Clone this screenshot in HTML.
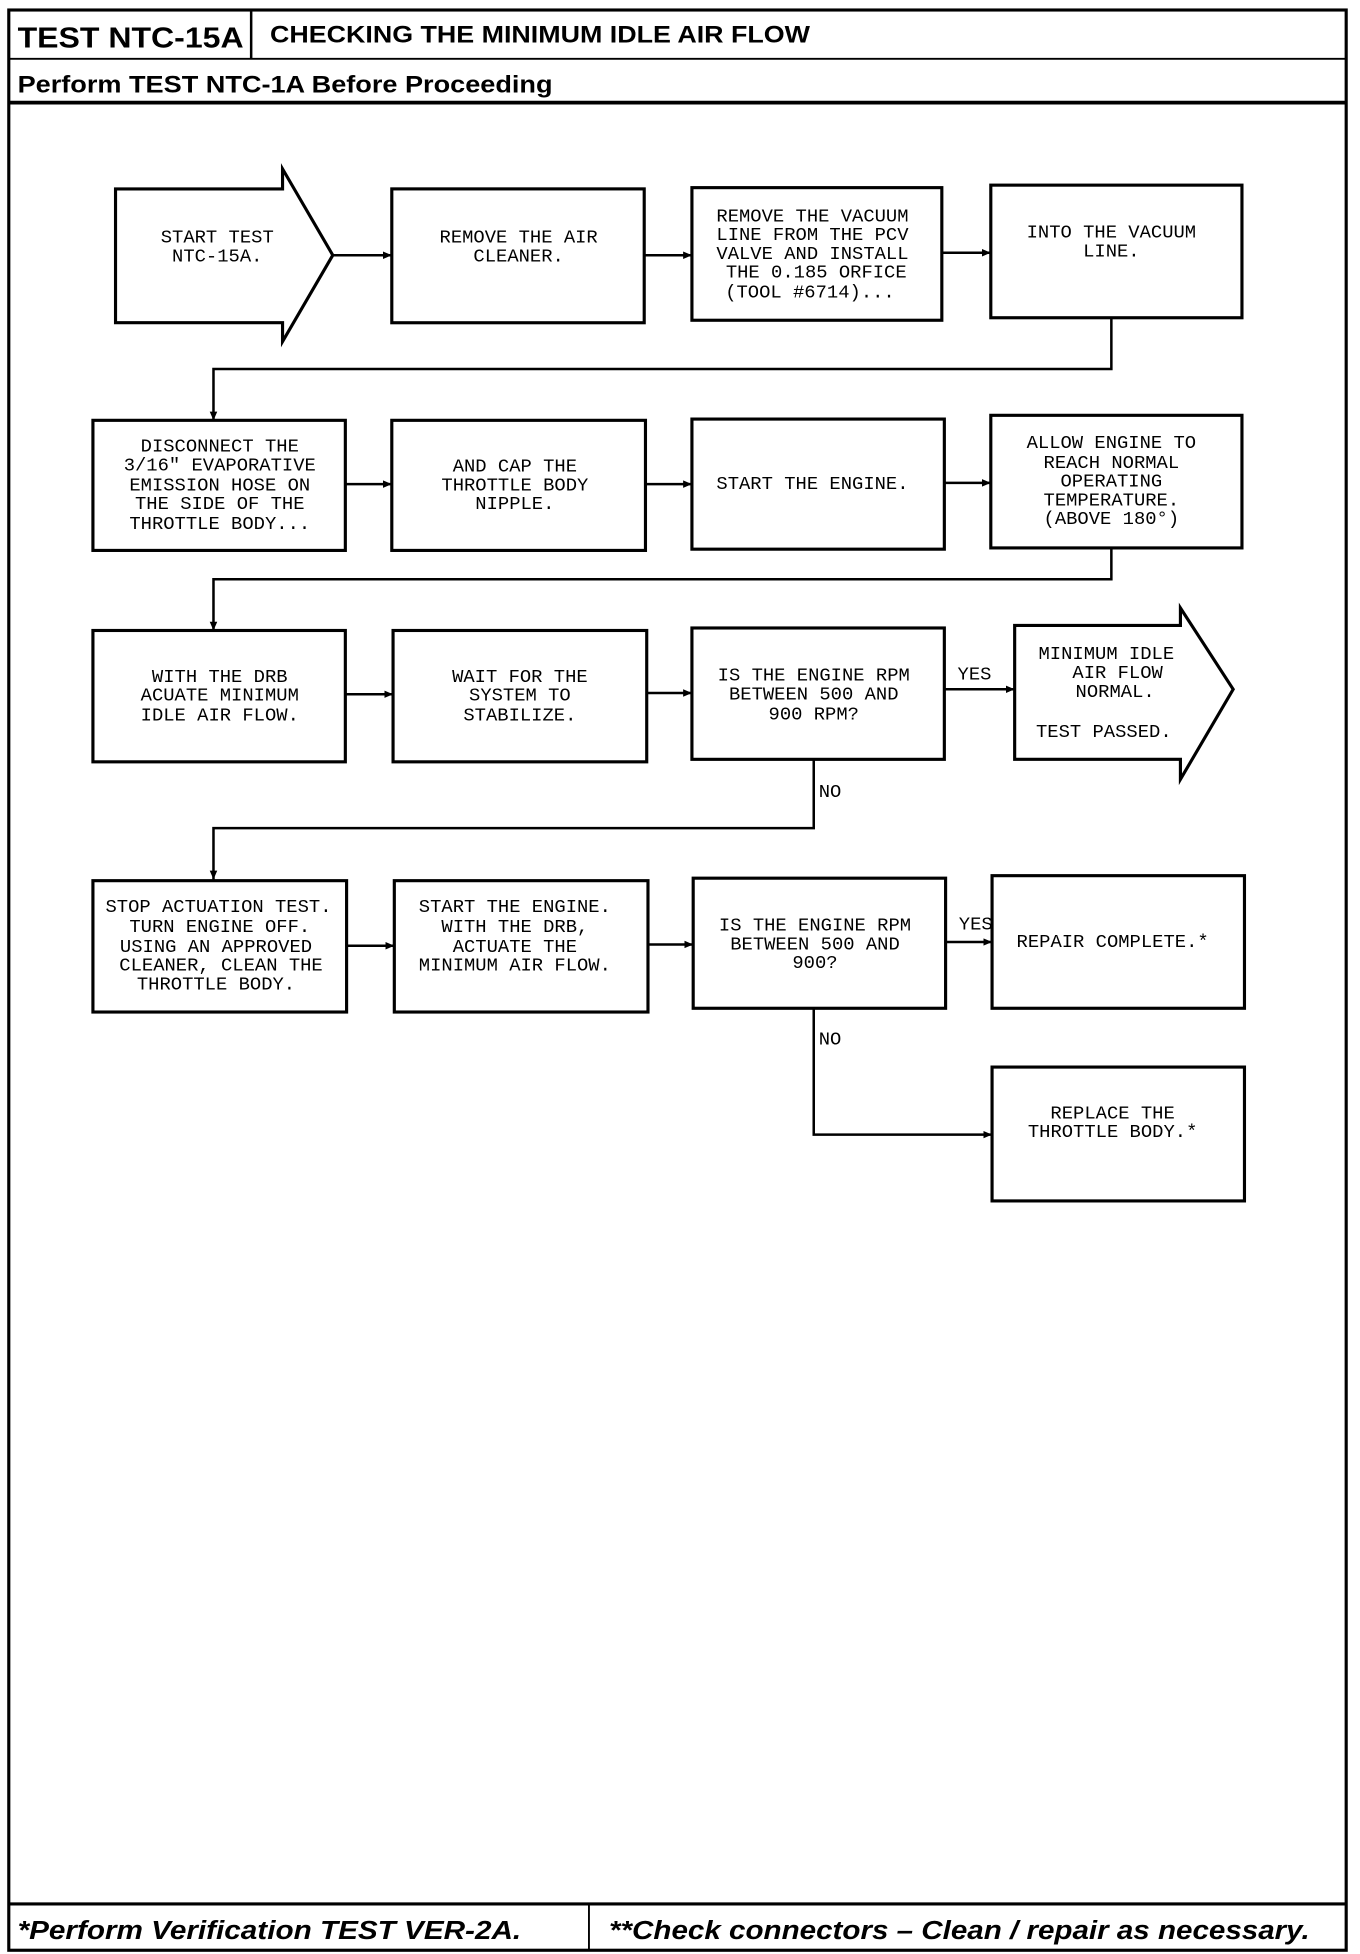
<!DOCTYPE html>
<html><head><meta charset="utf-8"><style>
html,body{margin:0;padding:0;background:#fff;}
svg{display:block}
.t{font-family:"Liberation Mono",monospace;font-size:15px;text-anchor:middle;fill:#000;}
.b{fill:none;stroke:#000;stroke-width:2.5}
.l{fill:none;stroke:#000;stroke-width:2}
</style></head><body>
<svg width="1360" height="1954" viewBox="0 0 1083 1562" preserveAspectRatio="none" xmlns="http://www.w3.org/2000/svg">
<defs><marker id="a" markerWidth="8" markerHeight="8" refX="7" refY="4" orient="auto" markerUnits="userSpaceOnUse"><path d="M0,1 L7,4 L0,7 z" fill="#000"/></marker></defs>
<!-- frame -->
<rect x="7" y="8" width="1065" height="1551" fill="none" stroke="#000" stroke-width="2.5"/>
<line x1="7" y1="47" x2="1072" y2="47" stroke="#000" stroke-width="1.5"/>
<line x1="200" y1="8" x2="200" y2="47" stroke="#000" stroke-width="2"/>
<line x1="7" y1="82" x2="1072" y2="82" stroke="#000" stroke-width="3"/>
<line x1="7" y1="1522" x2="1072" y2="1522" stroke="#000" stroke-width="2.5"/>
<line x1="469" y1="1522" x2="469" y2="1559" stroke="#000" stroke-width="1.5"/>
<text x="14" y="38" font-family="Liberation Sans" font-weight="bold" font-size="23" textLength="180" lengthAdjust="spacingAndGlyphs">TEST NTC-15A</text>
<text x="215" y="34" font-family="Liberation Sans" font-weight="bold" font-size="19" textLength="430" lengthAdjust="spacingAndGlyphs">CHECKING THE MINIMUM IDLE AIR FLOW</text>
<text x="14" y="74" font-family="Liberation Sans" font-weight="bold" font-size="19" textLength="426" lengthAdjust="spacingAndGlyphs">Perform TEST NTC-1A Before Proceeding</text>
<text x="14" y="1550" font-family="Liberation Sans" font-weight="bold" font-style="italic" font-size="21" textLength="401" lengthAdjust="spacingAndGlyphs">*Perform Verification TEST VER-2A.</text>
<text x="485" y="1550" font-family="Liberation Sans" font-weight="bold" font-style="italic" font-size="21" textLength="558" lengthAdjust="spacingAndGlyphs">**Check connectors – Clean / repair as necessary.</text>

<!-- row1 -->
<path class="b" d="M225,151 L92,151 L92,258 L225,258 L225,273 L265,204 L225,135 Z"/>
<text class="t" x="173" y="194">START TEST</text><text class="t" x="173" y="209">NTC-15A.</text>
<rect class="b" x="312" y="151" width="201" height="107"/>
<text class="t" x="413" y="194">REMOVE THE AIR</text><text class="t" x="413" y="209">CLEANER.</text>
<rect class="b" x="551" y="150" width="199" height="106"/>
<text class="t" x="647" y="177">REMOVE THE VACUUM</text><text class="t" x="647" y="192">LINE FROM THE PCV</text><text class="t" x="647" y="207">VALVE AND INSTALL</text><text class="t" x="650" y="222">THE 0.185 ORFICE</text><text class="t" x="645" y="238">(TOOL #6714)...</text>
<rect class="b" x="789" y="148" width="200" height="106"/>
<text class="t" x="885" y="190">INTO THE VACUUM</text><text class="t" x="885" y="205">LINE.</text>
<line class="l" x1="265" y1="204" x2="312" y2="204" marker-end="url(#a)"/>
<line class="l" x1="513" y1="204" x2="551" y2="204" marker-end="url(#a)"/>
<line class="l" x1="750" y1="202" x2="789" y2="202" marker-end="url(#a)"/>
<path class="l" d="M885,254 L885,295 L170,295 L170,336" marker-end="url(#a)"/>

<!-- row2 -->
<rect class="b" x="74" y="336" width="201" height="104"/>
<text class="t" x="175" y="361">DISCONNECT THE</text><text class="t" x="175" y="376">3/16" EVAPORATIVE</text><text class="t" x="175" y="392">EMISSION HOSE ON</text><text class="t" x="175" y="407">THE SIDE OF THE</text><text class="t" x="175" y="423">THROTTLE BODY...</text>
<rect class="b" x="312" y="336" width="202" height="104"/>
<text class="t" x="410" y="377">AND CAP THE</text><text class="t" x="410" y="392">THROTTLE BODY</text><text class="t" x="410" y="407">NIPPLE.</text>
<rect class="b" x="551" y="335" width="201" height="104"/>
<text class="t" x="647" y="391">START THE ENGINE.</text>
<rect class="b" x="789" y="332" width="200" height="106"/>
<text class="t" x="885" y="358">ALLOW ENGINE TO</text><text class="t" x="885" y="374">REACH NORMAL</text><text class="t" x="885" y="389">OPERATING</text><text class="t" x="885" y="404">TEMPERATURE.</text><text class="t" x="885" y="419">(ABOVE 180°)</text>
<line class="l" x1="275" y1="387" x2="312" y2="387" marker-end="url(#a)"/>
<line class="l" x1="514" y1="387" x2="551" y2="387" marker-end="url(#a)"/>
<line class="l" x1="752" y1="386" x2="789" y2="386" marker-end="url(#a)"/>
<path class="l" d="M885,438 L885,463 L170,463 L170,504" marker-end="url(#a)"/>

<!-- row3 -->
<rect class="b" x="74" y="504" width="201" height="105"/>
<text class="t" x="175" y="545">WITH THE DRB</text><text class="t" x="175" y="560">ACUATE MINIMUM</text><text class="t" x="175" y="576">IDLE AIR FLOW.</text>
<rect class="b" x="313" y="504" width="202" height="105"/>
<text class="t" x="414" y="545">WAIT FOR THE</text><text class="t" x="414" y="560">SYSTEM TO</text><text class="t" x="414" y="576">STABILIZE.</text>
<rect class="b" x="551" y="502" width="201" height="105"/>
<text class="t" x="648" y="544">IS THE ENGINE RPM</text><text class="t" x="648" y="559">BETWEEN 500 AND</text><text class="t" x="648" y="575">900 RPM?</text>
<path class="b" d="M940,500 L808,500 L808,607 L940,607 L940,623 L982,551 L940,486 Z"/>
<text class="t" x="881" y="527">MINIMUM IDLE</text><text class="t" x="890" y="542">AIR FLOW</text><text class="t" x="888" y="557">NORMAL.</text><text class="t" x="879" y="589">TEST PASSED.</text>
<line class="l" x1="275" y1="555" x2="313" y2="555" marker-end="url(#a)"/>
<line class="l" x1="515" y1="554" x2="551" y2="554" marker-end="url(#a)"/>
<line class="l" x1="752" y1="551" x2="808" y2="551" marker-end="url(#a)"/>
<text class="t" x="776" y="543">YES</text>
<path class="l" d="M648,607 L648,662 L170,662 L170,703" marker-end="url(#a)"/>
<text class="t" x="661" y="637">NO</text>

<!-- row4 -->
<rect class="b" x="74" y="704" width="202" height="105"/>
<text class="t" x="174" y="729">STOP ACTUATION TEST.</text><text class="t" x="175" y="745">TURN ENGINE OFF.</text><text class="t" x="172" y="761">USING AN APPROVED</text><text class="t" x="176" y="776">CLEANER, CLEAN THE</text><text class="t" x="172" y="791">THROTTLE BODY.</text>
<rect class="b" x="314" y="704" width="202" height="105"/>
<text class="t" x="410" y="729">START THE ENGINE.</text><text class="t" x="410" y="745">WITH THE DRB,</text><text class="t" x="410" y="761">ACTUATE THE</text><text class="t" x="410" y="776">MINIMUM AIR FLOW.</text>
<rect class="b" x="552" y="702" width="201" height="104"/>
<text class="t" x="649" y="744">IS THE ENGINE RPM</text><text class="t" x="649" y="759">BETWEEN 500 AND</text><text class="t" x="649" y="774">900?</text>
<rect class="b" x="790" y="700" width="201" height="106"/>
<text class="t" x="886" y="757">REPAIR COMPLETE.*</text>
<line class="l" x1="276" y1="756" x2="314" y2="756" marker-end="url(#a)"/>
<line class="l" x1="516" y1="755" x2="552" y2="755" marker-end="url(#a)"/>
<line class="l" x1="753" y1="753" x2="790" y2="753" marker-end="url(#a)"/>
<text class="t" x="777" y="743">YES</text>
<path class="l" d="M648,806 L648,907 L790,907" marker-end="url(#a)"/>
<text class="t" x="661" y="835">NO</text>
<rect class="b" x="790" y="853" width="201" height="107"/>
<text class="t" x="886" y="894">REPLACE THE</text><text class="t" x="886" y="909">THROTTLE BODY.*</text>
</svg>
</body></html>
